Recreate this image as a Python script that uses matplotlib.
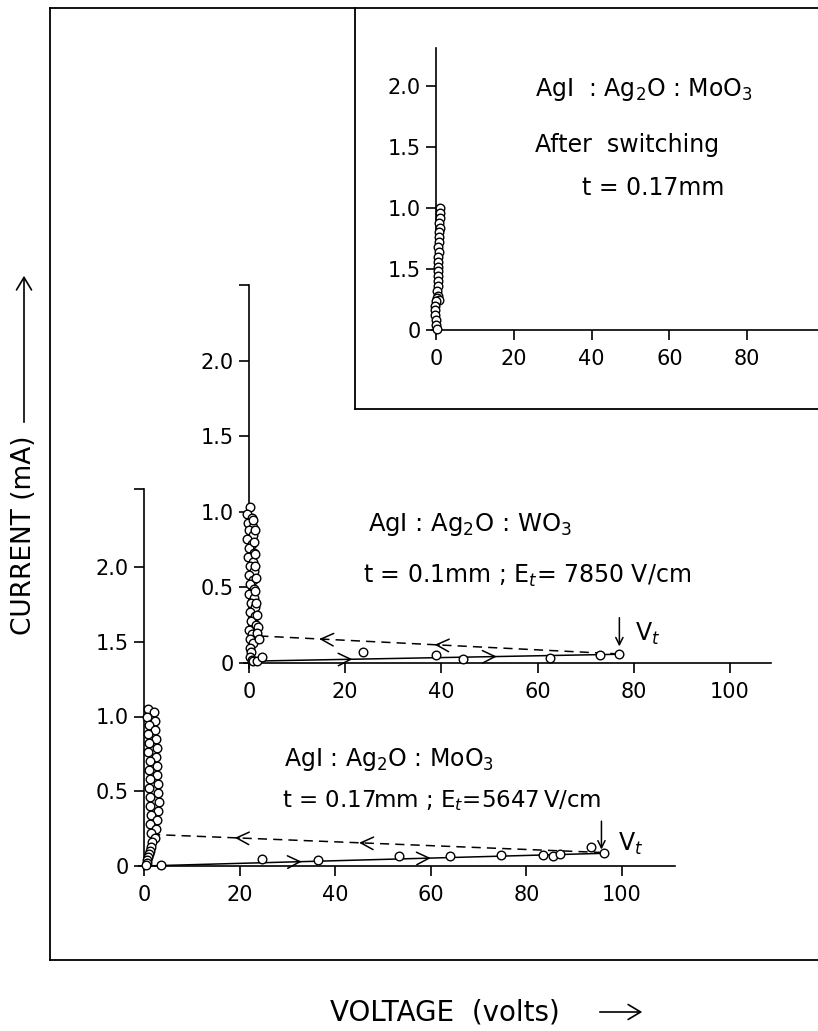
import matplotlib
matplotlib.use("Agg")
import matplotlib.pyplot as plt

# ---------------- data ----------------
# Inset: AgI:Ag2O:MoO3 after switching
inset_v = [1.0, 0.9, 1.0, 0.8, 0.9, 0.7, 0.8, 0.7, 0.6, 0.7, 0.6, 0.5, 0.6, 0.5, 0.4, 0.5, 0.4, 0.3, 0.4, 0.3, 0.8, 0.0, -0.3, -0.2, -0.3, -0.1, 0.0, 0.2]
inset_i = [1.00, 0.96, 0.92, 0.88, 0.84, 0.80, 0.76, 0.72, 0.68, 0.64, 0.60, 0.56, 0.52, 0.48, 0.44, 0.40, 0.36, 0.32, 0.28, 0.26, 0.25, 0.24, 0.20, 0.16, 0.12, 0.08, 0.04, 0.01]
inset_yticks = [0, 0.5, 1.0, 1.5, 2.0]
inset_yticklabels = ["0", "1.5", "1.0", "1.5", "2.0"]
inset_xticks = [0, 20, 40, 60, 80]

# Middle: AgI:Ag2O:WO3, t = 0.1 mm
wo3_on_v = [0.2, -0.4, 0.6, -0.3, 0.8, 0.0, 0.9, -0.4, 0.7, 0.1, 1.0, -0.2, 0.8, 0.2, 1.0, -0.1,
            0.9, 0.3, 1.1, 0.0, 1.0, 0.4, 1.2, 0.2, 1.3, 0.5, 1.5, 0.0, 0.6, 0.3, 0.8, 0.2, 0.5, 0.3, 0.6,
            0.9, 1.2, 1.1, 1.3, 1.2, 1.4, 1.3, 1.5, 1.6, 1.8, 1.6, 2.1, 0.9, 1.6]
wo3_on_i = [1.03, 0.99, 0.96, 0.93, 0.90, 0.88, 0.85, 0.82, 0.79, 0.76, 0.73, 0.70, 0.67, 0.64, 0.61, 0.58,
            0.55, 0.52, 0.49, 0.46, 0.43, 0.40, 0.37, 0.34, 0.31, 0.28, 0.25, 0.22, 0.19, 0.16, 0.13, 0.10, 0.07, 0.04, 0.02,
            0.95, 0.88, 0.80, 0.72, 0.64, 0.56, 0.48, 0.40, 0.32, 0.24, 0.20, 0.16, 0.015, 0.015]
wo3_fwd_v = [2.6, 23.6, 38.8, 44.5, 62.6, 73.0, 77.0]
wo3_fwd_i = [0.04, 0.075, 0.05, 0.025, 0.03, 0.055, 0.058]
wo3_solid_v = [0.0, 77.0]
wo3_solid_i = [0.012, 0.058]
wo3_dash_v = [77.0, 1.5]
wo3_dash_i = [0.06, 0.18]
wo3_fwd_arrows_v = [20.5, 50.5]
wo3_back_arrows_v = [15.6, 39.6]
wo3_vt = 77.0
wo3_xticks = [0, 20, 40, 60, 80, 100]
wo3_yticks = [0, 0.5, 1.0, 1.5, 2.0]

# Bottom: AgI:Ag2O:MoO3, t = 0.17 mm
mo_on_v = [0.9, 2.0, 0.7, 2.2, 1.0, 2.4, 0.8, 2.5, 1.1, 2.7, 0.9, 2.6, 1.2, 2.8, 1.0, 2.7,
           1.2, 2.9, 1.1, 3.0, 1.3, 3.1, 1.2, 2.9, 1.4, 2.8, 1.3, 2.6, 1.5, 2.3,
           1.6, 1.4, 1.2, 1.0, 0.9, 0.7, 0.6, 0.5]
mo_on_i = [1.05, 1.03, 1.00, 0.97, 0.94, 0.91, 0.88, 0.85, 0.82, 0.79, 0.76, 0.73, 0.70, 0.67, 0.64, 0.61,
           0.58, 0.55, 0.52, 0.49, 0.46, 0.43, 0.40, 0.37, 0.34, 0.31, 0.28, 0.25, 0.22, 0.19,
           0.16, 0.13, 0.10, 0.08, 0.06, 0.04, 0.02, 0.005]
mo_fwd_v = [3.6, 24.6, 36.3, 53.4, 64.0, 74.6, 83.5, 85.5, 87.0, 93.6, 96.3]
mo_fwd_i = [0.01, 0.045, 0.04, 0.065, 0.065, 0.072, 0.075, 0.07, 0.078, 0.13, 0.085]
mo_solid_v = [0.0, 96.3]
mo_solid_i = [0.0, 0.085]
mo_dash_v = [96.0, 2.3]
mo_dash_i = [0.09, 0.21]
mo_fwd_arrows_v = [32.0, 59.0]
mo_back_arrows_v = [20.0, 46.0]
mo_vt = 95.7
mo_xticks = [0, 20, 40, 60, 80, 100]
mo_yticks = [0, 0.5, 1.0, 1.5, 2.0]

# ---------------- layout helpers ----------------
W, H = 818, 1031
fig = plt.figure(figsize=(W / 100, H / 100), dpi=100)
fig.patch.set_facecolor("white")
plt.rcParams["font.family"] = ["DejaVu Sans"]


def px_axes(left, top, right, bottom):
    return fig.add_axes([left / W, 1 - bottom / H, (right - left) / W, (bottom - top) / H])


def panel(x0, y0, xs, ys, xlim, ylim, cap=False):
    left = x0 + xlim[0] * xs
    right = x0 + xlim[1] * xs
    bottom = y0 - ylim[0] * ys
    top = y0 - ylim[1] * ys
    ax = px_axes(left, top, right, bottom)
    ax.set_xlim(*xlim)
    ax.set_ylim(*ylim)
    ax.patch.set_alpha(0)
    for s in ["top", "right"]:
        ax.spines[s].set_visible(False)
    ax.spines["left"].set_position(("data", 0))
    ax.spines["bottom"].set_position(("data", 0))
    for s in ["left", "bottom"]:
        ax.spines[s].set_linewidth(1.2)
    ax.tick_params(direction="out", length=7, width=1.2, labelsize=15, pad=4)
    ax.tick_params(axis="x", pad=7)
    if cap:
        ax.set_yticks([ylim[1]], minor=True)
        ax.tick_params(axis="y", which="minor", direction="out", length=7, width=1.2)
    return ax


LW = 1.1
mk = dict(marker="o", ms=6.2, mfc="white", mec="black", mew=1.0, ls="none", clip_on=False, zorder=4)

# outer frame
frame = px_axes(50, 8, 840, 960)
frame.set_xticks([]); frame.set_yticks([])
frame.spines["right"].set_visible(False)
for s in ["left", "top", "bottom"]:
    frame.spines[s].set_linewidth(1.3)
frame.patch.set_alpha(0)

# inset frame
iframe = px_axes(355, 8, 840, 409)
iframe.set_xticks([]); iframe.set_yticks([])
for s in ["right", "top"]:
    iframe.spines[s].set_visible(False)
for s in ["left", "bottom"]:
    iframe.spines[s].set_linewidth(1.3)
iframe.patch.set_alpha(0)


def arrow_on(ax, x, xs, ys, direction):
    # chevron arrowhead placed on a straight segment
    slope = (ys[1] - ys[0]) / (xs[1] - xs[0])
    y = ys[0] + slope * (x - xs[0])
    d = 1.0 * direction
    ax.annotate("", xy=(x + d, y + slope * d), xytext=(x, y),
                arrowprops=dict(arrowstyle="->,head_length=0.6,head_width=0.3",
                                lw=LW, color="black", shrinkA=0, shrinkB=0,
                                mutation_scale=15))


# ---- inset ----
ax1 = panel(436, 330, 3.89, 122, (-1, 100), (-0.03, 2.31))
ax1.plot(inset_v, inset_i, **mk)
ax1.set_xticks(inset_xticks)
ax1.set_yticks(inset_yticks)
ax1.set_yticklabels(inset_yticklabels)
ax1.text(25.4, 1.97, r"AgI  : Ag$_2$O : MoO$_3$", fontsize=17, va="center", ha="left")
ax1.text(25.4, 1.52, "After  switching", fontsize=17, va="center", ha="left")
ax1.text(37.5, 1.16, "t = 0.17mm", fontsize=17, va="center", ha="left")

# ---- middle (WO3) ----
ax2 = panel(249, 663, 4.81, 151, (-1, 108.5), (-0.03, 2.5), cap=True)
ax2.plot(wo3_solid_v, wo3_solid_i, color="black", lw=LW)
ax2.plot(wo3_dash_v, wo3_dash_i, color="black", lw=LW, ls=(0, (6, 4)))
for xv in wo3_fwd_arrows_v:
    arrow_on(ax2, xv, wo3_solid_v, wo3_solid_i, +1)
for xv in wo3_back_arrows_v:
    arrow_on(ax2, xv, wo3_dash_v, wo3_dash_i, -1)
ax2.plot(wo3_on_v, wo3_on_i, **mk)
ax2.plot(wo3_fwd_v, wo3_fwd_i, **mk)
ax2.annotate("", xy=(wo3_vt, 0.11), xytext=(wo3_vt, 0.30),
             arrowprops=dict(arrowstyle="->", lw=LW, color="black", shrinkA=0, shrinkB=0, mutation_scale=13))
ax2.text(wo3_vt + 3.2, 0.19, r"V$_t$", fontsize=17, va="center", ha="left")
ax2.set_xticks(wo3_xticks)
ax2.set_yticks(wo3_yticks)
ax2.set_yticklabels(["0", "0.5", "1.0", "1.5", "2.0"])
ax2.text(24.7, 0.92, r"AgI : Ag$_2$O : WO$_3$", fontsize=17.5, va="center", ha="left")
ax2.text(23.7, 0.58, r"t = 0.1mm ; E$_t$= 7850 V/cm", fontsize=17, va="center", ha="left")

# ---- bottom (MoO3) ----
ax3 = panel(144, 866, 4.78, 149.5, (-1, 111), (-0.03, 2.52), cap=True)
ax3.plot(mo_solid_v, mo_solid_i, color="black", lw=LW)
ax3.plot(mo_dash_v, mo_dash_i, color="black", lw=LW, ls=(0, (6, 4)))
for xv in mo_fwd_arrows_v:
    arrow_on(ax3, xv, mo_solid_v, mo_solid_i, +1)
for xv in mo_back_arrows_v:
    arrow_on(ax3, xv, mo_dash_v, mo_dash_i, -1)
ax3.plot(mo_on_v, mo_on_i, **mk)
ax3.plot(mo_fwd_v, mo_fwd_i, **mk)
ax3.annotate("", xy=(mo_vt, 0.11), xytext=(mo_vt, 0.30),
             arrowprops=dict(arrowstyle="->", lw=LW, color="black", shrinkA=0, shrinkB=0, mutation_scale=13))
ax3.text(mo_vt + 3.5, 0.15, r"V$_t$", fontsize=17, va="center", ha="left")
ax3.set_xticks(mo_xticks)
ax3.set_yticks(mo_yticks)
ax3.set_yticklabels(["0", "0.5", "1.0", "1.5", "2.0"])
ax3.text(29.3, 0.71, r"AgI : Ag$_2$O : MoO$_3$", fontsize=17, va="center", ha="left")
ax3.text(28.9, 0.44, r"t = 0.17mm ; E$_t$=5647$\,$V/cm", fontsize=16.5, va="center", ha="left")

# ---- axis titles ----
fig.text(24 / W, 1 - 535 / H, "CURRENT (mA)", rotation=90, fontsize=19, ha="center", va="center")
fig.add_artist(matplotlib.patches.FancyArrowPatch((24 / W, 1 - 425 / H), (24 / W, 1 - 273 / H),
               transform=fig.transFigure, arrowstyle="->,head_length=0.5,head_width=0.3",
               mutation_scale=18, lw=1.2, color="black"))
fig.text(445 / W, 1 - 1012 / H, "VOLTAGE  (volts)", fontsize=20, ha="center", va="center")
fig.add_artist(matplotlib.patches.FancyArrowPatch((597 / W, 1 - 1012 / H), (645 / W, 1 - 1012 / H),
               transform=fig.transFigure, arrowstyle="->,head_length=0.5,head_width=0.3",
               mutation_scale=18, lw=1.2, color="black"))

fig.savefig("out.png", dpi=100, facecolor="white")
